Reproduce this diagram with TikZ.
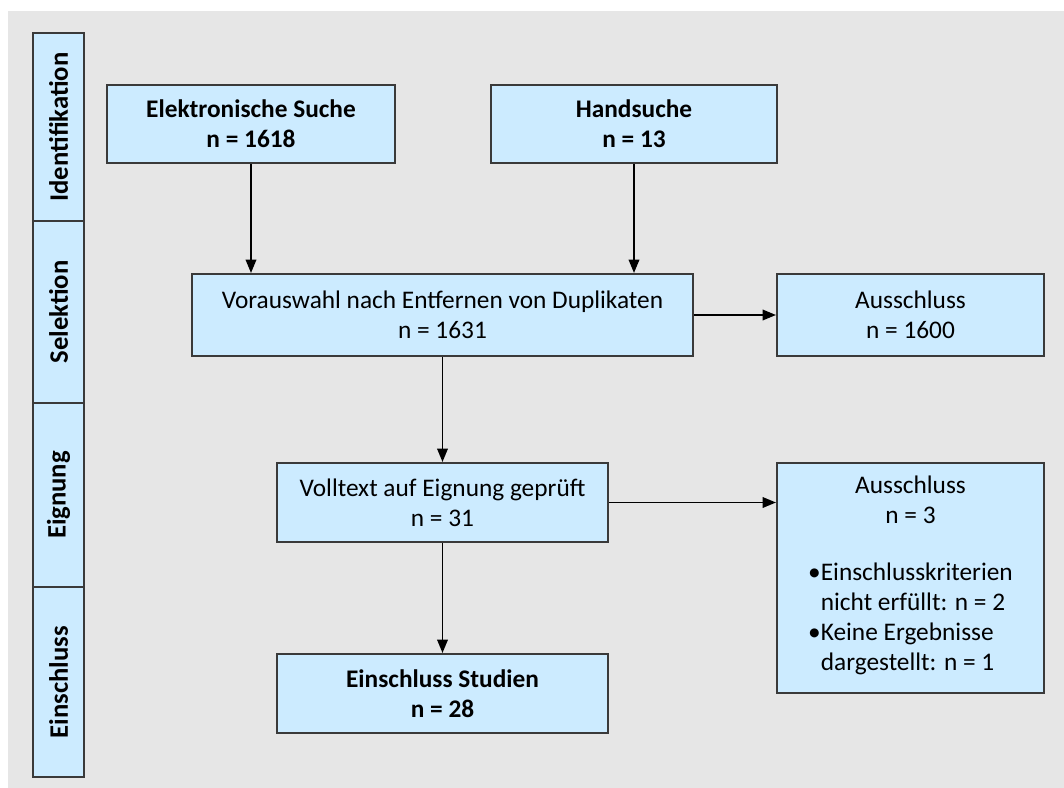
\documentclass[tikz,border=0pt]{standalone}
\usepackage{fontspec}
\setmainfont{Carlito}
\usetikzlibrary{arrows.meta,positioning}
\definecolor{boxblue}{HTML}{CCEBFF}
\definecolor{bggray}{HTML}{E6E6E6}
\definecolor{edgegray}{HTML}{3A3A3A}
\tikzset{
  box/.style={draw=edgegray, line width=1.6pt, fill=boxblue, align=center, inner sep=2pt,
    font=\fontsize{19}{22.5}\selectfont},
  boldbox/.style={box, font=\bfseries\fontsize{19}{22.5}\selectfont},
  phase/.style={boldbox, rotate=90, minimum height=38.25pt,
    font=\bfseries\fontsize{20}{22.5}\selectfont},
  flowarrow/.style={-{Triangle[length=10pt,width=8pt]}, line width=1.1pt, black}
}

\begin{document}
\begin{tikzpicture}[x=0.75pt, y=-0.75pt]
\fill[white] (0,0) rectangle (1064,788);
\fill[bggray] (8,11) rectangle (1064,788);
\useasboundingbox (0,0) rectangle (1064,788);

% phases
\node[phase, minimum width=141pt] (ident) at (58.5,127) {Identifikation};
\node[phase, minimum width=136.5pt] (selek) at (58.5,312) {Selektion};
\node[phase, minimum width=138pt] (eign) at (58.5,495) {Eignung};
\node[phase, minimum width=142.5pt] (einphase) at (58.5,682) {Einschluss};

% boxes
\node[boldbox, minimum width=216pt, minimum height=58.5pt] (elek) at (251,124)
  {Elektronische Suche\\n = 1618};
\node[boldbox, minimum width=214.5pt, minimum height=58.5pt] (hand) at (634,124)
  {Handsuche\\n = 13};
\node[box, minimum width=375.75pt, minimum height=61.5pt] (vor) at (442.5,315)
  {Vorauswahl nach Entfernen von Duplikaten\\n = 1631};
\node[box, minimum width=200.25pt, minimum height=61.5pt] (aus1) at (910.5,315)
  {Ausschluss\\n = 1600};
\node[box, minimum width=248.25pt, minimum height=59.25pt] (vol) at (442.5,502.5)
  {Volltext auf Eignung geprüft\\n = 31};
\node[box, minimum width=200.25pt, minimum height=172.5pt] (aus2) at (910.5,578)
  {Ausschluss\\n = 3\\[20pt]
   \begin{tabular}[t]{@{}l@{}l@{}}
   •&Einschlusskriterien\\
    &nicht erfüllt: n = 2\\
   •&Keine Ergebnisse\\
    &dargestellt: n = 1
   \end{tabular}};
\node[boldbox, minimum width=248.25pt, minimum height=59.25pt] (ein) at (442.5,693.5)
  {Einschluss Studien\\n = 28};

% arrows
\draw[flowarrow] (elek.south) -- (elek.south |- vor.north);
\draw[flowarrow] (hand.south) -- (hand.south |- vor.north);
\draw[flowarrow] (vor.east) -- (aus1.west);
\draw[flowarrow] (vor.south) -- (vol.north);
\draw[flowarrow] (vol.east) -- (vol.east -| aus2.west);
\draw[flowarrow] (vol.south) -- (ein.north);
\end{tikzpicture}
\end{document}
